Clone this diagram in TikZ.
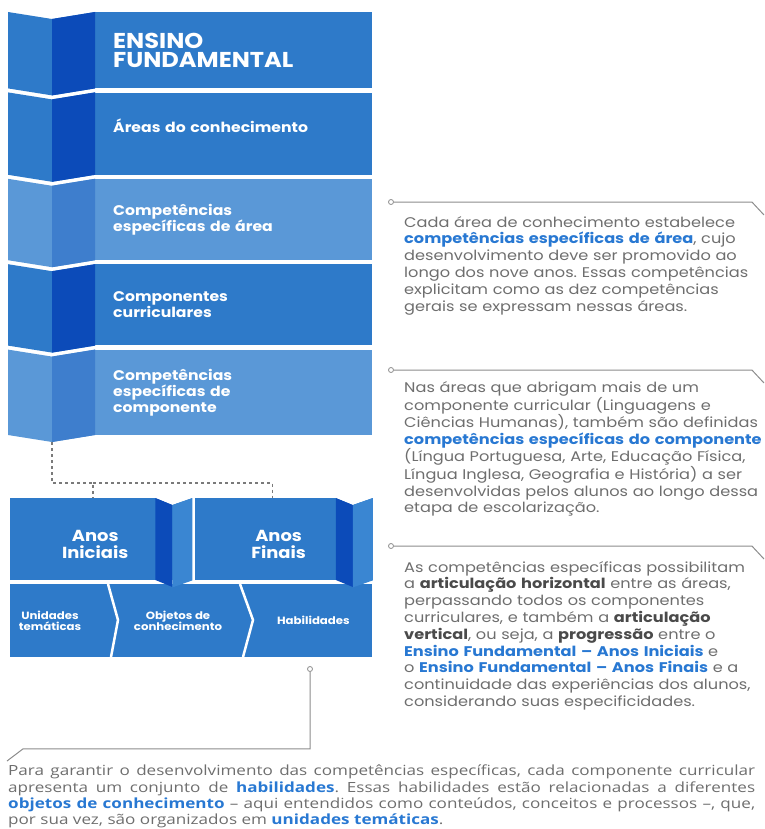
\documentclass[tikz,border=0pt]{standalone}
\usepackage{fontspec}
\setmainfont{Poppins}[FakeStretch=1.12]
\newfontfamily\notefont{Poppins}[FakeStretch=1.155]
\newfontfamily\parafont{Open Sans}[FakeStretch=1.22]
\usetikzlibrary{positioning,calc}

\definecolor{bandblue}{HTML}{2E7AC9}
\definecolor{bandlight}{HTML}{5A98D7}
\definecolor{folddark}{HTML}{0C4BB9}
\definecolor{foldmid}{HTML}{3E7ECD}
\definecolor{foldlight}{HTML}{3A86D2}
\definecolor{noteblue}{HTML}{2878D2}
\definecolor{notegrey}{HTML}{6E6E6E}
\definecolor{notedark}{HTML}{4A4A4A}
\definecolor{linegrey}{HTML}{8C8C8C}
\definecolor{linkgrey}{HTML}{7A7A7A}

\newcommand{\hl}[1]{\textcolor{noteblue}{\textbf{#1}}}
\newcommand{\hd}[1]{\textcolor{notedark}{\textbf{#1}}}

\begin{document}
\frenchspacing
\begin{tikzpicture}[x=1pt, y=-1pt,
    band/.style={fill=#1, text=white, align=left, text width=241pt,
                 inner xsep=18pt, inner ysep=0pt, minimum height=81pt,
                 font=\bfseries\fontsize{14}{16}\selectfont},
    stage/.style={fill=bandblue, inner sep=0pt, minimum height=82pt},
    stagelabel/.style={text=white, align=center, inner sep=0pt,
                  font=\bfseries\fontsize{16}{17}\selectfont},
    tierlabel/.style={text=white, align=center, inner sep=0pt,
                  font=\bfseries\fontsize{10.5}{11.5}\selectfont},
    note/.style={anchor=north west, text=notegrey, align=left, inner sep=0pt,
                 text width=370pt, font=\notefont\fontsize{14}{16.8}\selectfont},
    dot/.style={circle, draw=linegrey, fill=white, line width=0.8pt,
                minimum size=5pt, inner sep=0pt},
    callout/.style={draw=linegrey, line width=1pt},
    sep/.style={draw=white, line width=2.5pt},
    dashlink/.style={draw=linkgrey, line width=1.2pt, dash pattern=on 3pt off 3pt}]

  \useasboundingbox (0,0) rectangle (764,829);

  % the ribbon of the five levels
  \node[band=bandblue, anchor=north west, minimum height=76pt,
        font=\bfseries\fontsize{21.5}{19.5}\selectfont] (r1) at (95,12)
    {ENSINO\\FUNDAMENTAL};
  \node[band=bandblue, below=4pt of r1, minimum height=82pt, text depth=16pt] (r2)
    {Áreas do conhecimento};
  \node[band=bandlight, below=4pt of r2] (r3)
    {Competências\\específicas de área};
  \node[band=bandblue, below=4pt of r3] (r4)
    {Componentes\\curriculares};
  \node[band=bandlight, below=4pt of r4, minimum height=85pt] (r5)
    {Competências\\específicas de\\componente};

  \foreach \n/\c/\d in {r1/bandblue/folddark, r2/bandblue/folddark,
                        r3/bandlight/foldmid, r4/bandblue/folddark,
                        r5/bandlight/foldmid}{
    \fill[\c] (\n.north west) -- ++(-43,7) -- ++(-44,-7)
      -- ($(\n.south west)+(-87,0)$) -- ++(44,7) -- (\n.south west) -- cycle;
    \fill[\d] (\n.north west) -- ++(-43,7)
      -- ($(\n.south west)+(-43,7)$) -- (\n.south west) -- cycle;
  }

  % the two stages and their three parts
  \node[fill=bandblue, anchor=north west, minimum width=362pt,
        minimum height=73pt, inner sep=0pt] (tier) at (10,584) {};
  \draw[sep] ($(tier.north west)+(98,0)$) -- ++(10,36) -- ++(-7,37);
  \draw[sep] ($(tier.north west)+(230,0)$) -- ++(13,36) -- ++(-10,37);
  \node[tierlabel] (ut) at ($(tier.west)+(40,0)$) {Unidades\\temáticas};
  \node[tierlabel] (oc) at ($(tier.west)+(168,0)$) {Objetos de\\conhecimento};
  \node[tierlabel] (hb) at ($(tier.east)+(-59,0)$) {Habilidades};

  \node[stage, anchor=north west, minimum width=182pt] (ai) at (10,498) {};
  \node[stage, right=2pt of ai, minimum width=178pt] (af) {};
  \foreach \n in {ai, af}{
    \fill[white] ($(\n.north east)+(-37,0)$) -- ++(17,7) -- (\n.north east) -- cycle;
    \fill[folddark] ($(\n.north east)+(-37,0)$) -- ++(17,7) -- ++(0,82)
      -- ++(-17,-7) -- cycle;
    \fill[foldlight] ($(\n.north east)+(-20,7)$) -- (\n.north east)
      -- (\n.south east) -- ++(-20,7) -- cycle;
  }
  \node[stagelabel] (ail) at ($(ai.center)+(-6,5)$) {Anos\\Iniciais};
  \node[stagelabel] (afl) at ($(af.center)+(-5,5)$) {Anos\\Finais};

  \coordinate (tip) at ($(r5.south west)+(-43,7)$);
  \coordinate (fork) at ($(tip)+(0,41)$);
  \draw[dashlink] (tip) -- (fork) -| ($(ai.north west)+(83,0)$);
  \draw[dashlink] ($(fork)+(41,0)$) -| ($(af.north west)+(78,0)$);

  % notes on the right
  \node[note] (n1) at (404,216)
    {Cada área de conhecimento estabelece\\
     \hl{competências específicas de área}, cujo\\
     desenvolvimento deve ser promovido ao\\
     longo dos nove anos. Essas competências\\
     explicitam como as dez competências\\
     gerais se expressam nessas áreas.};
  \node[note] (n2) at (404,381)
    {Nas áreas que abrigam mais de um\\
     componente curricular (Linguagens e\\
     Ciências Humanas), também são definidas\\
     \hl{competências específicas do componente}\\
     (Língua Portuguesa, Arte, Educação Física,\\
     Língua Inglesa, Geografia e História) a ser\\
     desenvolvidas pelos alunos ao longo dessa\\
     etapa de escolarização.};
  \node[note] (n3) at (404,561)
    {As competências específicas possibilitam\\
     a \hd{articulação horizontal} entre as áreas,\\
     perpassando todos os componentes\\
     curriculares, e também a \hd{articulação}\\
     \hd{vertical}, ou seja, a \hd{progressão} entre o\\
     \hl{Ensino Fundamental – Anos Iniciais} e\\
     o \hl{Ensino Fundamental – Anos Finais} e a\\
     continuidade das experiências dos alunos,\\
     considerando suas especificidades.};
  \node[note, text width=747pt, align=justify,
        font=\parafont\fontsize{14}{16.2}\selectfont] (n4) at (8,765)
    {Para garantir o desenvolvimento das competências específicas, cada componente curricular\linebreak
     apresenta um conjunto de \hl{habilidades}. Essas habilidades estão relacionadas a diferentes\linebreak
     \hl{objetos de conhecimento} – aqui entendidos como conteúdos, conceitos e processos –, que,\linebreak
     por sua vez, são organizados em \hl{unidades temáticas}.};

  \node[dot] (d1) at (391,202) {};
  \node[dot] (d2) at (391,370) {};
  \node[dot] (d3) at (391,546) {};
  \node[dot] (d4) at (310,669) {};
  \coordinate (e1) at (764,215);
  \coordinate (e2) at (764,383);
  \coordinate (e3) at (764,559);
  \coordinate (e4) at (7,761);
  \foreach \d/\e in {d1/e1, d2/e2, d3/e3}
    \draw[callout] (\d.east) -- ++(358,0) -- (\e);
  \draw[callout] (d4.south) -- ++(0,77) -- ++(-287,0) -- (e4);
\end{tikzpicture}
\end{document}
